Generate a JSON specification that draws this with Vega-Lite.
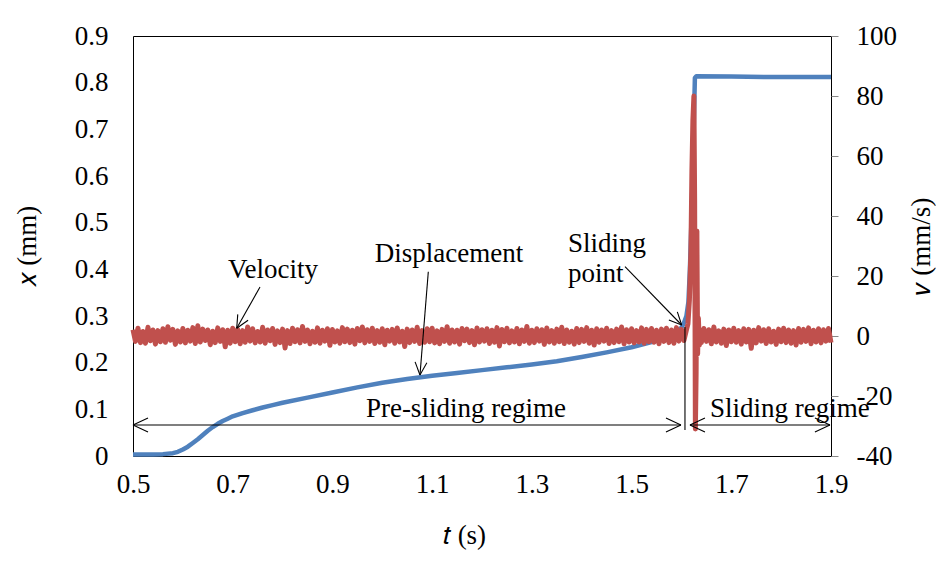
{
  "$schema": "https://vega.github.io/schema/vega-lite/v6.json",
  "width": 698,
  "height": 420,
  "autosize": {"type": "none"},
  "padding": {"left": 133, "top": 36, "right": 105, "bottom": 114},
  "background": "white",
  "config": {
    "view": {"stroke": "#000", "strokeWidth": 1},
    "font": "Liberation Serif",
    "axis": {"grid": false, "domain": false, "labelFont": "Liberation Serif", "labelFontSize": 27, "labelColor": "#000", "titleFont": "Liberation Serif", "titleFontSize": 27, "titleFontWeight": "normal", "titleColor": "#000", "labelFlush": false, "labelOverlap": false}
  },
  "datasets": {
    "disp": [
      {"t":0.50,"x":0.003},{"t":0.52,"x":0.003},{"t":0.54,"x":0.003},{"t":0.56,"x":0.004},{"t":0.58,"x":0.006},{"t":0.59,"x":0.009},{"t":0.60,"x":0.014},{"t":0.61,"x":0.020},{"t":0.62,"x":0.028},{"t":0.63,"x":0.036},{"t":0.64,"x":0.045},{"t":0.65,"x":0.054},{"t":0.66,"x":0.062},{"t":0.67,"x":0.069},{"t":0.68,"x":0.075},{"t":0.69,"x":0.080},{"t":0.70,"x":0.085},{"t":0.72,"x":0.092},{"t":0.74,"x":0.098},{"t":0.76,"x":0.104},{"t":0.78,"x":0.109},{"t":0.80,"x":0.114},{"t":0.85,"x":0.125},{"t":0.90,"x":0.136},{"t":0.95,"x":0.147},{"t":1.00,"x":0.157},{"t":1.05,"x":0.165},{"t":1.10,"x":0.172},{"t":1.15,"x":0.178},{"t":1.20,"x":0.184},{"t":1.25,"x":0.190},{"t":1.30,"x":0.196},{"t":1.35,"x":0.203},{"t":1.40,"x":0.212},{"t":1.45,"x":0.222},{"t":1.50,"x":0.233},{"t":1.54,"x":0.244},{"t":1.57,"x":0.254},{"t":1.59,"x":0.265},{"t":1.60,"x":0.275},{"t":1.605,"x":0.285},{"t":1.610,"x":0.300},{"t":1.614,"x":0.330},{"t":1.617,"x":0.400},{"t":1.620,"x":0.500},{"t":1.623,"x":0.620},{"t":1.625,"x":0.720},{"t":1.627,"x":0.810},{"t":1.630,"x":0.814},{"t":1.70,"x":0.813},{"t":1.80,"x":0.812},{"t":1.90,"x":0.812}
    ],
    "vel": [
      {"t":0.500,"v":2.1},{"t":0.505,"v":-1.8},{"t":0.510,"v":2.6},{"t":0.515,"v":-2.2},{"t":0.520,"v":1.5},{"t":0.525,"v":-2.4},{"t":0.530,"v":2.9},{"t":0.535,"v":-1.6},{"t":0.540,"v":2.0},{"t":0.545,"v":-2.7},{"t":0.550,"v":1.8},{"t":0.555,"v":-1.9},{"t":0.560,"v":2.4},{"t":0.565,"v":-2.1},{"t":0.570,"v":3.1},{"t":0.575,"v":-1.4},{"t":0.580,"v":2.2},{"t":0.585,"v":-2.8},{"t":0.590,"v":1.7},{"t":0.595,"v":-2.0},
      {"t":0.600,"v":2.5},{"t":0.605,"v":-2.3},{"t":0.610,"v":1.9},{"t":0.615,"v":-1.7},{"t":0.620,"v":2.8},{"t":0.625,"v":-2.5},{"t":0.630,"v":3.4},{"t":0.635,"v":-2.0},{"t":0.640,"v":2.3},{"t":0.645,"v":-1.5},{"t":0.650,"v":2.0},{"t":0.655,"v":-2.9},{"t":0.660,"v":1.6},{"t":0.665,"v":-2.2},{"t":0.670,"v":2.7},{"t":0.675,"v":-1.8},{"t":0.680,"v":2.1},{"t":0.685,"v":-3.6},{"t":0.690,"v":1.9},{"t":0.695,"v":-2.4},
      {"t":0.700,"v":2.6},{"t":0.705,"v":-1.9},{"t":0.710,"v":2.2},{"t":0.715,"v":-2.6},{"t":0.720,"v":1.8},{"t":0.725,"v":-2.1},{"t":0.730,"v":3.0},{"t":0.735,"v":-1.7},{"t":0.740,"v":2.4},{"t":0.745,"v":-2.3},{"t":0.750,"v":1.5},{"t":0.755,"v":-2.0},{"t":0.760,"v":2.9},{"t":0.765,"v":-2.4},{"t":0.770,"v":2.0},{"t":0.775,"v":-1.6},{"t":0.780,"v":2.5},{"t":0.785,"v":-2.8},{"t":0.790,"v":1.7},{"t":0.795,"v":-2.2},
      {"t":0.800,"v":2.3},{"t":0.805,"v":-4.0},{"t":0.810,"v":1.8},{"t":0.815,"v":-2.5},{"t":0.820,"v":2.6},{"t":0.825,"v":-1.9},{"t":0.830,"v":2.1},{"t":0.835,"v":-2.3},{"t":0.840,"v":3.2},{"t":0.845,"v":-1.8},{"t":0.850,"v":2.0},{"t":0.855,"v":-2.6},{"t":0.860,"v":1.6},{"t":0.865,"v":-2.1},{"t":0.870,"v":2.7},{"t":0.875,"v":-2.4},{"t":0.880,"v":1.9},{"t":0.885,"v":-1.7},{"t":0.890,"v":2.4},{"t":0.895,"v":-3.1},
      {"t":0.900,"v":2.2},{"t":0.905,"v":-2.0},{"t":0.910,"v":1.7},{"t":0.915,"v":-2.4},{"t":0.920,"v":2.8},{"t":0.925,"v":-1.9},{"t":0.930,"v":2.3},{"t":0.935,"v":-2.2},{"t":0.940,"v":1.9},{"t":0.945,"v":-2.7},{"t":0.950,"v":2.5},{"t":0.955,"v":-1.6},{"t":0.960,"v":3.0},{"t":0.965,"v":-2.3},{"t":0.970,"v":2.1},{"t":0.975,"v":-1.8},{"t":0.980,"v":2.6},{"t":0.985,"v":-2.5},{"t":0.990,"v":1.8},{"t":0.995,"v":-2.1},
      {"t":1.000,"v":2.4},{"t":1.005,"v":-2.9},{"t":1.010,"v":1.9},{"t":1.015,"v":-1.7},{"t":1.020,"v":2.2},{"t":1.025,"v":-2.4},{"t":1.030,"v":2.7},{"t":1.035,"v":-2.0},{"t":1.040,"v":1.6},{"t":1.045,"v":-3.5},{"t":1.050,"v":2.3},{"t":1.055,"v":-2.2},{"t":1.060,"v":2.0},{"t":1.065,"v":-1.8},{"t":1.070,"v":2.9},{"t":1.075,"v":-2.5},{"t":1.080,"v":1.8},{"t":1.085,"v":-2.1},{"t":1.090,"v":2.4},{"t":1.095,"v":-1.9},
      {"t":1.100,"v":2.6},{"t":1.105,"v":-2.3},{"t":1.110,"v":1.7},{"t":1.115,"v":-2.6},{"t":1.120,"v":2.2},{"t":1.125,"v":-1.8},{"t":1.130,"v":3.1},{"t":1.135,"v":-2.4},{"t":1.140,"v":2.0},{"t":1.145,"v":-2.0},{"t":1.150,"v":1.9},{"t":1.155,"v":-2.7},{"t":1.160,"v":2.5},{"t":1.165,"v":-1.6},{"t":1.170,"v":2.3},{"t":1.175,"v":-2.2},{"t":1.180,"v":1.8},{"t":1.185,"v":-2.9},{"t":1.190,"v":2.7},{"t":1.195,"v":-2.0},
      {"t":1.200,"v":2.1},{"t":1.205,"v":-1.7},{"t":1.210,"v":2.4},{"t":1.215,"v":-2.5},{"t":1.220,"v":1.9},{"t":1.225,"v":-2.1},{"t":1.230,"v":2.8},{"t":1.235,"v":-3.3},{"t":1.240,"v":2.2},{"t":1.245,"v":-1.9},{"t":1.250,"v":2.6},{"t":1.255,"v":-2.3},{"t":1.260,"v":1.7},{"t":1.265,"v":-2.0},{"t":1.270,"v":2.5},{"t":1.275,"v":-2.6},{"t":1.280,"v":2.0},{"t":1.285,"v":-1.8},{"t":1.290,"v":3.2},{"t":1.295,"v":-2.4},
      {"t":1.300,"v":1.9},{"t":1.305,"v":-2.2},{"t":1.310,"v":2.4},{"t":1.315,"v":-1.7},{"t":1.320,"v":2.1},{"t":1.325,"v":-2.8},{"t":1.330,"v":2.7},{"t":1.335,"v":-2.0},{"t":1.340,"v":1.8},{"t":1.345,"v":-2.4},{"t":1.350,"v":2.3},{"t":1.355,"v":-1.9},{"t":1.360,"v":2.9},{"t":1.365,"v":-2.5},{"t":1.370,"v":2.0},{"t":1.375,"v":-2.1},{"t":1.380,"v":1.6},{"t":1.385,"v":-2.7},{"t":1.390,"v":2.5},{"t":1.395,"v":-2.2},
      {"t":1.400,"v":2.2},{"t":1.405,"v":-1.8},{"t":1.410,"v":2.8},{"t":1.415,"v":-2.4},{"t":1.420,"v":1.9},{"t":1.425,"v":-3.0},{"t":1.430,"v":2.4},{"t":1.435,"v":-2.1},{"t":1.440,"v":2.0},{"t":1.445,"v":-1.7},{"t":1.450,"v":2.6},{"t":1.455,"v":-2.5},{"t":1.460,"v":1.8},{"t":1.465,"v":-2.2},{"t":1.470,"v":2.3},{"t":1.475,"v":-1.9},{"t":1.480,"v":3.0},{"t":1.485,"v":-2.6},{"t":1.490,"v":2.1},{"t":1.495,"v":-2.0},
      {"t":1.500,"v":2.4},{"t":1.505,"v":-2.3},{"t":1.510,"v":1.8},{"t":1.515,"v":-2.0},{"t":1.520,"v":2.7},{"t":1.525,"v":-2.4},{"t":1.530,"v":2.2},{"t":1.535,"v":-1.9},{"t":1.540,"v":2.5},{"t":1.545,"v":-2.1},{"t":1.550,"v":1.9},{"t":1.555,"v":-2.6},{"t":1.560,"v":2.3},{"t":1.565,"v":-1.8},{"t":1.570,"v":2.6},{"t":1.575,"v":-2.2},{"t":1.580,"v":2.0},{"t":1.585,"v":-2.4},{"t":1.590,"v":2.8},{"t":1.595,"v":-1.7},
      {"t":1.600,"v":2.2},{"t":1.605,"v":-1.5},{"t":1.610,"v":2.0},
      {"t":1.613,"v":4},{"t":1.616,"v":12},{"t":1.619,"v":28},{"t":1.621,"v":55},{"t":1.623,"v":72},{"t":1.625,"v":80},{"t":1.6265,"v":45},{"t":1.628,"v":-31},{"t":1.6295,"v":-12},{"t":1.631,"v":35},{"t":1.6325,"v":-6},{"t":1.634,"v":6},{"t":1.636,"v":-3},{"t":1.638,"v":2},
      {"t":1.640,"v":-2.2},{"t":1.645,"v":2.5},{"t":1.650,"v":-1.8},{"t":1.655,"v":2.1},{"t":1.660,"v":-2.6},{"t":1.665,"v":3.0},{"t":1.670,"v":-2.0},{"t":1.675,"v":1.7},{"t":1.680,"v":-2.4},{"t":1.685,"v":2.3},{"t":1.690,"v":-3.2},{"t":1.695,"v":2.0},{"t":1.700,"v":-1.9},{"t":1.705,"v":2.6},{"t":1.710,"v":-2.1},{"t":1.715,"v":1.8},{"t":1.720,"v":-2.7},{"t":1.725,"v":2.4},{"t":1.730,"v":-2.0},{"t":1.735,"v":2.2},
      {"t":1.740,"v":-4.1},{"t":1.745,"v":1.9},{"t":1.750,"v":-2.3},{"t":1.755,"v":2.8},{"t":1.760,"v":-1.7},{"t":1.765,"v":2.1},{"t":1.770,"v":-2.5},{"t":1.775,"v":2.4},{"t":1.780,"v":-2.0},{"t":1.785,"v":1.6},{"t":1.790,"v":-2.8},{"t":1.795,"v":2.3},{"t":1.800,"v":-1.9},{"t":1.805,"v":2.6},{"t":1.810,"v":-2.2},{"t":1.815,"v":2.0},{"t":1.820,"v":-2.4},{"t":1.825,"v":1.8},{"t":1.830,"v":-3.0},{"t":1.835,"v":2.5},
      {"t":1.840,"v":-2.1},{"t":1.845,"v":2.2},{"t":1.850,"v":-1.8},{"t":1.855,"v":2.7},{"t":1.860,"v":-2.6},{"t":1.865,"v":1.9},{"t":1.870,"v":-2.0},{"t":1.875,"v":2.4},{"t":1.880,"v":-2.3},{"t":1.885,"v":2.1},{"t":1.890,"v":-1.7},{"t":1.895,"v":2.5},{"t":1.900,"v":-2.2}
    ],
    "arrows": [
      {"t":0.7547,"y":0.3621,"t2":0.708,"y2":0.2736},
      {"t":0.708,"y":0.2736,"t2":0.7308,"y2":0.2910},
      {"t":0.708,"y":0.2736,"t2":0.7101,"y2":0.3034},
      {"t":1.0923,"y":0.3949,"t2":1.0756,"y2":0.1736},
      {"t":1.0756,"y":0.1736,"t2":1.0894,"y2":0.1997},
      {"t":1.0756,"y":0.1736,"t2":1.0658,"y2":0.2016},
      {"t":1.4868,"y":0.4056,"t2":1.6005,"y2":0.2807},
      {"t":1.6005,"y":0.2807,"t2":1.5918,"y2":0.3090},
      {"t":1.6005,"y":0.2807,"t2":1.5748,"y2":0.2912},
      {"t":0.5,"y":0.0664,"t2":1.599,"y2":0.0664},
      {"t":0.5,"y":0.0664,"t2":0.5301,"y2":0.0814},
      {"t":0.5,"y":0.0664,"t2":0.5301,"y2":0.0514},
      {"t":1.599,"y":0.0664,"t2":1.569,"y2":0.0814},
      {"t":1.599,"y":0.0664,"t2":1.569,"y2":0.0514},
      {"t":1.6171,"y":0.0664,"t2":1.8979,"y2":0.0664},
      {"t":1.6171,"y":0.0664,"t2":1.6472,"y2":0.0814},
      {"t":1.6171,"y":0.0664,"t2":1.6472,"y2":0.0514},
      {"t":1.8979,"y":0.0664,"t2":1.8678,"y2":0.0814},
      {"t":1.8979,"y":0.0664,"t2":1.8678,"y2":0.0514},
      {"t":1.6071,"y":0.2764,"t2":1.6071,"y2":0.0557}
    ],
    "labels": [
      {"t":0.7808,"y":0.3814,"text":"Velocity","a":"c"},
      {"t":1.1338,"y":0.4157,"text":"Displacement","a":"c"},
      {"t":1.1679,"y":0.0836,"text":"Pre-sliding regime","a":"c"},
      {"t":1.6572,"y":0.0836,"text":"Sliding regime","a":"l"},
      {"t":1.3724,"y":0.4371,"text":"Sliding","a":"l"},
      {"t":1.3724,"y":0.3729,"text":"point","a":"l"}
    ]
  },
  "encoding": {
    "x": {"field": "t", "type": "quantitative", "scale": {"domain": [0.5, 1.9], "nice": false, "zero": false},
      "axis": {"values": [0.5, 0.7, 0.9, 1.1, 1.3, 1.5, 1.7, 1.9], "format": ".1f", "ticks": false, "tickSize": 0, "labelPadding": 15, "title": "𝑡 (s)", "titleX": 331, "titleY": 79, "titleBaseline": "middle", "titleAlign": "center"}}
  },
  "layer": [
    {
      "data": {"name": "disp"},
      "mark": {"type": "line", "color": "#4F81BD", "strokeWidth": 4.5, "strokeJoin": "round"},
      "encoding": {
        "y": {"field": "x", "type": "quantitative", "scale": {"domain": [0, 0.9], "nice": false},
          "axis": {"orient": "left", "values": [0, 0.1, 0.2, 0.3, 0.4, 0.5, 0.6, 0.7, 0.8, 0.9], "format": "~g", "ticks": false, "tickSize": 0, "labelPadding": 25, "title": "𝑥 (mm)", "titleX": -106, "titleY": 210, "titleAngle": 270, "titleBaseline": "middle", "titleAlign": "center"}}
      }
    },
    {
      "data": {"name": "vel"},
      "mark": {"type": "line", "color": "#C0504D", "strokeWidth": 5, "strokeJoin": "round"},
      "encoding": {
        "y": {"field": "v", "type": "quantitative", "scale": {"domain": [-40, 100], "nice": false, "zero": false},
          "axis": {"orient": "right", "values": [-40, -20, 0, 20, 40, 60, 80, 100], "labelExpr": "'' + datum.value", "ticks": true, "tickSize": 7, "tickColor": "#888", "tickWidth": 1, "labelPadding": 18, "title": "𝑣 (mm/s)", "titleX": 90, "titleY": 210, "titleAngle": 270, "titleBaseline": "middle", "titleAlign": "center"}}
      }
    },
    {
      "data": {"name": "arrows"},
      "mark": {"type": "rule", "color": "#000", "strokeWidth": 1.1},
      "encoding": {
        "y": {"field": "y", "type": "quantitative", "scale": {"domain": [0, 0.9], "nice": false}, "axis": null},
        "x2": {"field": "t2"},
        "y2": {"field": "y2"}
      }
    },
    {
      "data": {"name": "labels"},
      "transform": [{"filter": "datum.a == 'c'"}],
      "mark": {"type": "text", "font": "Liberation Serif", "fontSize": 27, "align": "center", "baseline": "alphabetic", "color": "#000"},
      "encoding": {
        "y": {"field": "y", "type": "quantitative", "scale": {"domain": [0, 0.9], "nice": false}, "axis": null},
        "text": {"field": "text"}
      }
    },
    {
      "data": {"name": "labels"},
      "transform": [{"filter": "datum.a == 'l'"}],
      "mark": {"type": "text", "font": "Liberation Serif", "fontSize": 27, "align": "left", "baseline": "alphabetic", "color": "#000"},
      "encoding": {
        "y": {"field": "y", "type": "quantitative", "scale": {"domain": [0, 0.9], "nice": false}, "axis": null},
        "text": {"field": "text"}
      }
    }
  ],
  "resolve": {"scale": {"y": "independent"}}
}
